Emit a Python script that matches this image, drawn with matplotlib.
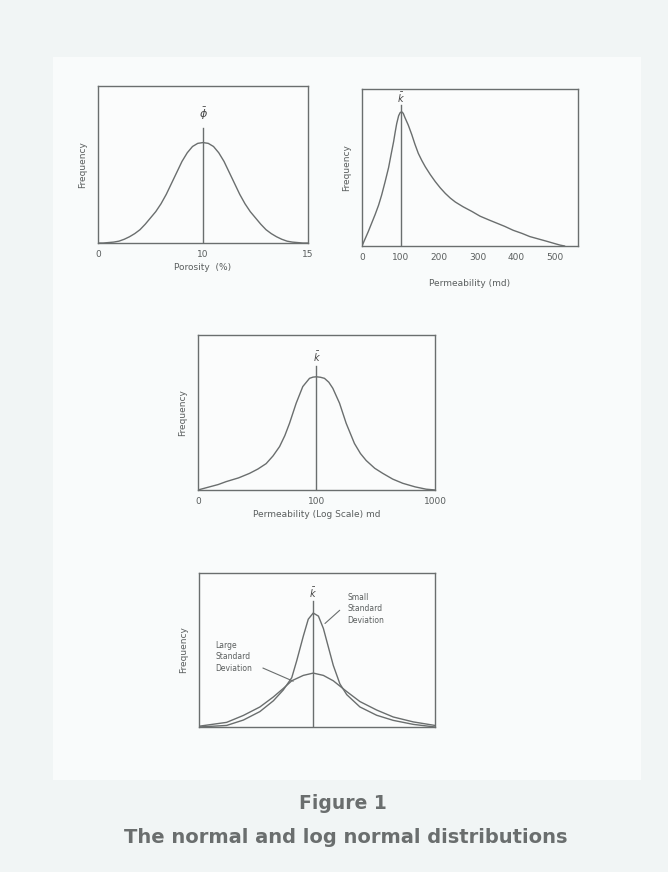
import matplotlib.pyplot as plt
import matplotlib.patches as patches

# panel 1 - porosity (normal)
por_x = [0, 0.5, 1, 1.5, 2, 2.5, 3, 3.5, 4, 4.5, 5, 5.5, 6, 6.5, 7, 7.5, 8, 8.5, 9, 9.5, 10,
         10.5, 11, 11.5, 12, 12.5, 13, 13.5, 14, 14.5, 15, 15.5, 16, 16.5, 17, 17.5, 18, 18.5, 19, 19.5, 20]
por_y = [0.0, 0.0, 0.003, 0.006, 0.012, 0.024, 0.04, 0.06, 0.085, 0.12, 0.16, 0.20, 0.25, 0.31, 0.38,
         0.45, 0.52, 0.575, 0.615, 0.635, 0.64,
         0.635, 0.615, 0.575, 0.52, 0.45, 0.38, 0.31, 0.25, 0.20, 0.16, 0.12, 0.085, 0.06, 0.04, 0.024,
         0.012, 0.006, 0.003, 0.0, 0.0]
por_ticks = [0, 10, 20]
por_labels = ['0', '10', '15']
por_mean = 10

# panel 2 - permeability (log normal, linear axis)
perm_x = [0, 8, 16, 25, 34, 43, 51, 60, 69, 76, 82, 86, 90, 95, 99, 103, 107, 111, 120, 129, 137,
          146, 155, 164, 177, 190, 203, 216, 229, 242, 262, 285, 306, 330, 350, 370, 392, 415, 435,
          457, 479, 500, 513, 525]
perm_y = [0.0, 0.045, 0.09, 0.145, 0.20, 0.26, 0.325, 0.41, 0.50, 0.59, 0.665, 0.725, 0.78, 0.83,
          0.85, 0.855, 0.845, 0.82, 0.77, 0.71, 0.65, 0.59, 0.545, 0.505, 0.455, 0.41, 0.37, 0.335,
          0.305, 0.28, 0.25, 0.22, 0.19, 0.165, 0.145, 0.125, 0.10, 0.08, 0.06, 0.045, 0.03, 0.015,
          0.006, 0.0]
perm_ticks = [0, 100, 200, 300, 400, 500]
perm_mean = 100

# panel 3 - permeability on log scale
logp_x = [10, 12.5, 14.8, 17.3, 22, 27.2, 32, 37.6, 43, 48.8, 54, 59.2, 67.4, 76.6, 87.3, 93.5, 100,
          108, 116.8, 127, 137.3, 156.4, 178, 209, 235, 262.6, 310, 362.7, 440, 535, 680, 843, 1000]
logp_y = [0.0, 0.02, 0.035, 0.054, 0.078, 0.107, 0.135, 0.17, 0.22, 0.28, 0.35, 0.43, 0.56, 0.667,
          0.72, 0.728, 0.73, 0.727, 0.72, 0.695, 0.656, 0.56, 0.43, 0.30, 0.235, 0.19, 0.14, 0.107,
          0.07, 0.043, 0.02, 0.005, 0.0]
logp_ticks = [10, 100, 1000]
logp_labels = ['0', '100', '1000']
logp_mean = 100

# panel 4 - small vs large standard deviation
sd_x = [0, 11.7, 18.8, 25.8, 31.5, 35.7, 39.3, 41.4, 44.2, 46.3, 48.4, 50.6, 52.7, 54.8, 56.9,
        59.7, 62.6, 68.2, 75.3, 82.3, 90.8, 100]
small_sd = [0.0, 0.01, 0.045, 0.10, 0.17, 0.24, 0.32, 0.43, 0.59, 0.70, 0.74, 0.72, 0.64, 0.52,
            0.40, 0.28, 0.21, 0.13, 0.076, 0.043, 0.017, 0.0]
wide_x = [0, 11.7, 18.8, 25.8, 31.5, 35.7, 39.3, 44.2, 48.4, 52.7, 56.9, 62.6, 68.2, 75.3, 82.3, 90.8, 100]
large_sd = [0.005, 0.03, 0.075, 0.13, 0.195, 0.25, 0.30, 0.335, 0.35, 0.335, 0.30, 0.23, 0.165,
            0.11, 0.065, 0.033, 0.01]
sd_mean = 48.4

ink = '#6a6e6e'
txt = '#5a5e5e'

fig = plt.figure(figsize=(6.68, 8.72), dpi=100)
fig.patch.set_facecolor('#f1f5f5')
fig.patches.append(patches.Rectangle((0.08, 0.105), 0.88, 0.83, transform=fig.transFigure,
                                     facecolor='#f9fbfb', edgecolor='none', zorder=-10))


def setup(ax):
    ax.set_facecolor('#fbfcfc')
    for s in ax.spines.values():
        s.set_color(ink)
        s.set_linewidth(1.0)
    ax.set_ylim(0, 1)
    ax.set_yticks([])
    ax.tick_params(axis='x', length=0, pad=5, labelsize=6.5, labelcolor=txt)
    ax.set_ylabel('Frequency', fontsize=6.5, color=txt, labelpad=8)


# panel 1
ax1 = fig.add_axes([0.1467, 0.7213, 0.3144, 0.180])
setup(ax1)
ax1.plot(por_x, por_y, color=ink, lw=1)
ax1.plot([por_mean, por_mean], [0, 0.73], color=ink, lw=1)
ax1.text(por_mean, 0.82, r'$\bar{\phi}$', ha='center', va='center', fontsize=8, color='#444')
ax1.set_xlim(0, 20)
ax1.set_xticks(por_ticks)
ax1.set_xticklabels(por_labels)
ax1.set_xlabel('Porosity  (%)', fontsize=6.5, color=txt, labelpad=3)

# panel 2
ax2 = fig.add_axes([0.5419, 0.7179, 0.3234, 0.180])
setup(ax2)
ax2.plot(perm_x, perm_y, color=ink, lw=1)
ax2.plot([perm_mean, perm_mean], [0, 0.9], color=ink, lw=1)
ax2.text(perm_mean, 0.94, r'$\bar{k}$', ha='center', va='center', fontsize=7, color='#444')
ax2.set_xlim(0, 560)
ax2.set_xticks(perm_ticks)
ax2.set_xlabel('Permeability (md)', fontsize=6.5, color=txt, labelpad=12)

# panel 3
ax3 = fig.add_axes([0.2964, 0.4381, 0.3548, 0.1778])
setup(ax3)
ax3.set_xscale('log')
ax3.plot(logp_x, logp_y, color=ink, lw=1)
ax3.plot([logp_mean, logp_mean], [0, 0.80], color=ink, lw=1)
ax3.text(logp_mean, 0.86, r'$\bar{k}$', ha='center', va='center', fontsize=7, color='#444')
ax3.set_xlim(10, 1000)
ax3.set_xticks(logp_ticks)
ax3.set_xticklabels(logp_labels)
ax3.minorticks_off()
ax3.set_xlabel('Permeability (Log Scale) md', fontsize=6.5, color=txt, labelpad=3)

# panel 4
ax4 = fig.add_axes([0.2979, 0.1663, 0.3533, 0.1766])
setup(ax4)
ax4.plot(sd_x, small_sd, color=ink, lw=1)
ax4.plot(wide_x, large_sd, color=ink, lw=1)
ax4.plot([sd_mean, sd_mean], [0, 0.82], color=ink, lw=1)
ax4.text(sd_mean, 0.87, r'$\bar{k}$', ha='center', va='center', fontsize=7, color='#444')
ax4.set_xlim(0, 100)
ax4.set_xticks([])
ax4.text(63, 0.87, 'Small\nStandard\nDeviation', fontsize=5.5, color=txt, va='top', linespacing=1.35)
ax4.annotate('', xy=(52.5, 0.66), xytext=(60.5, 0.77),
             arrowprops=dict(arrowstyle='-', color=ink, lw=0.8))
ax4.text(7, 0.56, 'Large\nStandard\nDeviation', fontsize=5.5, color=txt, va='top', linespacing=1.35)
ax4.annotate('', xy=(41, 0.29), xytext=(26, 0.39),
             arrowprops=dict(arrowstyle='-', color=ink, lw=0.8))

fig.text(0.513, 0.079, 'Figure 1', ha='center', va='center', fontsize=13.5,
         fontweight='bold', color='#6a6e6e')
fig.text(0.518, 0.039, 'The normal and log normal distributions', ha='center', va='center',
         fontsize=14, fontweight='bold', color='#6a6e6e')

plt.savefig('out.png', dpi=100, facecolor=fig.get_facecolor())
